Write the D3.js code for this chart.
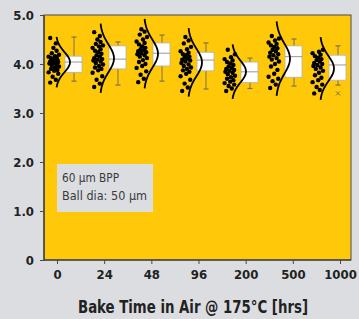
<!DOCTYPE html>
<html>
<head>
<meta charset="utf-8">
<script src="https://cdn.jsdelivr.net/npm/d3@7"></script>
<style>
  body { margin: 0; background: #dcdde0; }
  svg { display: block; }
  .tick text { font-family: "Liberation Sans Narrow", "DejaVu Sans Condensed", sans-serif; font-weight: bold; }
</style>
</head>
<body>
<svg id="chart" width="359" height="319"></svg>
<script>
// Categories and tick labels
const bakeTimes = ["0", "24", "48", "96", "200", "500", "1000"];
const yTicks = [0, 1, 2, 3, 4, 5];

const vals0 = [3.62, 3.68, 3.74, 3.8, 3.83, 3.86, 3.88, 3.9, 3.93, 3.95, 3.97, 3.99, 4.01, 4.02, 4.04, 4.05, 4.06, 4.08, 4.09, 4.1, 4.12, 4.13, 4.15, 4.16, 4.19, 4.22, 4.27, 4.33, 4.42, 4.53];
const vals24 = [3.53, 3.6, 3.68, 3.75, 3.82, 3.87, 3.9, 3.93, 3.96, 3.99, 4.02, 4.05, 4.07, 4.09, 4.1, 4.12, 4.15, 4.18, 4.21, 4.24, 4.27, 4.3, 4.33, 4.36, 4.38, 4.41, 4.45, 4.5, 4.57, 4.65];
const vals48 = [3.63, 3.7, 3.78, 3.85, 3.92, 3.96, 4.0, 4.04, 4.08, 4.12, 4.15, 4.18, 4.2, 4.22, 4.24, 4.26, 4.28, 4.3, 4.33, 4.36, 4.4, 4.43, 4.46, 4.5, 4.55, 4.6, 4.66, 4.71];
const vals96 = [3.45, 3.52, 3.6, 3.68, 3.75, 3.8, 3.84, 3.87, 3.9, 3.93, 3.96, 3.99, 4.02, 4.05, 4.07, 4.09, 4.11, 4.13, 4.15, 4.18, 4.2, 4.23, 4.26, 4.3, 4.35, 4.42, 4.48, 4.55];
const vals200 = [3.45, 3.5, 3.55, 3.58, 3.61, 3.64, 3.67, 3.7, 3.73, 3.76, 3.79, 3.82, 3.84, 3.86, 3.88, 3.9, 3.92, 3.95, 3.98, 4.01, 4.04, 4.07, 4.1, 4.14, 4.2, 4.29];
const vals500 = [3.51, 3.58, 3.65, 3.7, 3.74, 3.8, 3.88, 3.95, 4.0, 4.05, 4.09, 4.12, 4.15, 4.18, 4.2, 4.23, 4.26, 4.29, 4.32, 4.35, 4.38, 4.41, 4.44, 4.48, 4.52, 4.57];
const vals1000 = [3.4, 3.47, 3.53, 3.58, 3.63, 3.67, 3.72, 3.77, 3.82, 3.86, 3.9, 3.93, 3.96, 3.98, 4.0, 4.02, 4.05, 4.08, 4.1, 4.13, 4.16, 4.19, 4.22, 4.25, 4.29];
const allVals = [vals0, vals24, vals48, vals96, vals200, vals500, vals1000];

// Box plot stats
const whiskLo = [3.65, 3.57, 3.65, 3.49, 3.5, 3.55, 3.57];
const boxQ1 = [3.83, 3.9, 3.96, 3.86, 3.62, 3.73, 3.67];
const boxMed = [4.04, 4.1, 4.22, 4.08, 3.84, 4.15, 3.98];
const boxQ3 = [4.16, 4.37, 4.43, 4.24, 4.04, 4.37, 4.18];
const whiskHi = [4.55, 4.45, 4.59, 4.43, 4.12, 4.51, 4.37];
const outliers = [[], [], [], [], [], [], [3.4]];

const svg = d3.select("#chart");
const plot = { left: 44, right: 351, top: 15, bottom: 260 };

const y = d3.scaleLinear().domain([0, 5]).range([plot.bottom, plot.top]);
// axis ticks and the groups do not line up exactly in the original
const xTick = d3.scalePoint().domain(bakeTimes).range([57, 340]);
const xg = d3.scalePoint().domain(bakeTimes).range([56, 320]);

const font = '"Liberation Sans Narrow", "DejaVu Sans Condensed", sans-serif';

// plot background
svg.append("rect")
    .attr("x", plot.left).attr("y", plot.top)
    .attr("width", plot.right - plot.left).attr("height", plot.bottom - plot.top)
    .attr("fill", "#ffc90a")
    .attr("stroke", "#4a4a4a").attr("stroke-width", 1);

// text box
const note = svg.append("g");
note.append("rect")
    .attr("x", 57).attr("y", 164).attr("width", 96).attr("height", 48)
    .attr("fill", "#dcdde0");
note.append("text").attr("x", 62).attr("y", 182)
    .attr("font-family", font).attr("font-size", 13).attr("fill", "#3a3a3a")
    .attr("textLength", 57).attr("lengthAdjust", "spacingAndGlyphs")
    .text("60 µm BPP");
note.append("text").attr("x", 62).attr("y", 200)
    .attr("font-family", font).attr("font-size", 13).attr("fill", "#3a3a3a")
    .attr("textLength", 85).attr("lengthAdjust", "spacingAndGlyphs")
    .text("Ball dia: 50 µm");

// groups
const groups = svg.append("g").selectAll("g")
    .data(bakeTimes.map((k, i) => ({
        key: k, vals: allVals[i], lo: whiskLo[i], q1: boxQ1[i], med: boxMed[i],
        q3: boxQ3[i], hi: whiskHi[i], out: outliers[i]
    })))
    .join("g")
    .attr("transform", d => `translate(${xg(d.key)},0)`);

// box + whiskers
const bx0 = 9, bx1 = 26, bxc = 18;
groups.append("line")
    .attr("x1", bxc).attr("x2", bxc)
    .attr("y1", d => y(d.hi)).attr("y2", d => y(d.lo))
    .attr("stroke", "#7d7150").attr("stroke-width", 1);
groups.selectAll(".cap").data(d => [d.lo, d.hi]).join("line")
    .attr("class", "cap")
    .attr("x1", bxc - 2.5).attr("x2", bxc + 2.5)
    .attr("y1", v => y(v)).attr("y2", v => y(v))
    .attr("stroke", "#7d7150").attr("stroke-width", 1.2);
groups.append("rect")
    .attr("x", bx0).attr("width", bx1 - bx0)
    .attr("y", d => y(d.q3)).attr("height", d => y(d.q1) - y(d.q3))
    .attr("fill", "#fff").attr("stroke", "#b5b2a8").attr("stroke-width", 0.8);
groups.append("line")
    .attr("x1", bx0).attr("x2", bx1)
    .attr("y1", d => y(d.med)).attr("y2", d => y(d.med))
    .attr("stroke", "#9a978f").attr("stroke-width", 1);
groups.selectAll(".out").data(d => d.out).join("path")
    .attr("class", "out")
    .attr("d", v => `M${bxc - 2},${y(v) - 2}L${bxc + 2},${y(v) + 2}M${bxc - 2},${y(v) + 2}L${bxc + 2},${y(v) - 2}`)
    .attr("stroke", "#7d7150").attr("stroke-width", 1);

// normal curve fitted to each group
groups.append("path")
    .attr("d", d => {
        const m = d3.mean(d.vals), s = d3.deviation(d.vals);
        const pts = d3.range(-2.5, 2.51, 0.1).map(z => [14 * Math.exp(-z * z / 2), y(m + z * s)]);
        return d3.line().curve(d3.curveBasis)(pts);
    })
    .attr("fill", "none").attr("stroke", "#000").attr("stroke-width", 1.8);

// jittered points
const jit = [-6, 1, -3, 4, -8, -1, 3, -5, 0, 5, -4, 2, -7, -2, 4, -6, 1, -3, 3, -1, -5, 2, -8, 0, 5, -4, 2, -2, 1, -6];
groups.selectAll(".pt").data(d => d.vals).join("circle")
    .attr("class", "pt")
    .attr("cx", (v, i) => jit[i % jit.length] * 0.8 - 1)
    .attr("cy", v => y(v))
    .attr("r", 2.2)
    .attr("fill", "#000");

// axes
const yAxis = svg.append("g")
    .attr("transform", `translate(${plot.left},0)`)
    .call(d3.axisLeft(y).tickValues(yTicks).tickFormat(d => d === 0 ? "0" : d3.format(".1f")(d)).tickSize(4).tickPadding(6));
const xAxis = svg.append("g")
    .attr("transform", `translate(0,${plot.bottom})`)
    .call(d3.axisBottom(xTick).tickSize(4).tickPadding(6));
[yAxis, xAxis].forEach(a => {
    a.select(".domain").remove();
    a.selectAll(".tick line").attr("stroke", "#4a4a4a");
    a.selectAll(".tick text").attr("font-size", 13).attr("fill", "#222");
});
svg.append("line")
    .attr("x1", plot.left).attr("x2", plot.left).attr("y1", plot.top).attr("y2", plot.bottom + 0.5)
    .attr("stroke", "#4a4a4a").attr("stroke-width", 1.6);
svg.append("line")
    .attr("x1", plot.left).attr("x2", plot.right).attr("y1", plot.bottom).attr("y2", plot.bottom)
    .attr("stroke", "#4a4a4a").attr("stroke-width", 1.6);

svg.append("text")
    .attr("x", 78).attr("y", 313)
    .attr("font-family", font).attr("font-weight", "bold").attr("font-size", 17)
    .attr("fill", "#222")
    .attr("textLength", 230).attr("lengthAdjust", "spacingAndGlyphs")
    .text("Bake Time in Air @ 175°C [hrs]");
</script>
</body>
</html>
